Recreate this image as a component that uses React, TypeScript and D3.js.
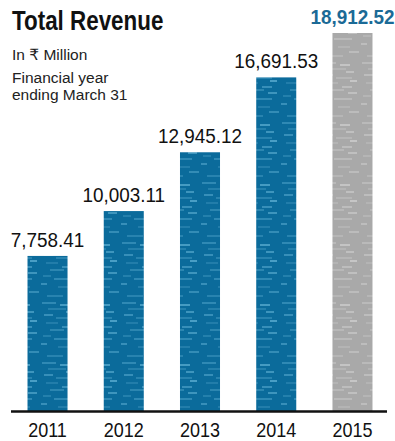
import React from "react";
import * as d3 from "d3";

const years = ["2011", "2012", "2013", "2014", "2015"];
const revenue = [7758.41, 10003.11, 12945.12, 16691.53, 18912.52];
const valueLabels = ["7,758.41", "10,003.11", "12,945.12", "16,691.53", "18,912.52"];
const highlightIndex = 4;

const W = 395;
const H = 441;
const BASE = 411;

export default function App() {
  const x = d3
    .scaleBand<string>()
    .domain(years)
    .range([9.4, 390.6])
    .paddingInner(0.475)
    .paddingOuter(0.2375);
  const y = d3.scaleLinear().domain([0, 18912.52]).range([BASE, 33]);
  const bw = x.bandwidth();

  // decorative texture strokes [x, y, length, opacity]
  const streaks = [
    [2, 3, 14, 0.5], [20, 5, 10, 0.8], [8, 9, 18, 0.35], [26, 12, 8, 0.7], [4, 15, 9, 0.6],
    [16, 18, 16, 0.4], [30, 21, 7, 0.85], [6, 23, 12, 0.3], [22, 27, 10, 0.6], [10, 30, 14, 0.45],
    [28, 33, 9, 0.7], [3, 36, 8, 0.35], [14, 39, 18, 0.5], [1, 44, 6, 0.6], [18, 47, 12, 0.3],
    [29, 52, 10, 0.55], [7, 56, 16, 0.4],
  ];

  return (
    <svg
      width={W}
      height={H}
      style={{ position: "absolute", left: 0, top: 0, background: "#fff" }}
      fontFamily="'Liberation Sans', Arial, sans-serif"
    >
      <defs>
        <pattern id="blueTex" width="40" height="60" patternUnits="userSpaceOnUse">
          <rect width="40" height="60" fill="#0b6b9b" />
          {streaks.map((s, i) => (
            <line key={i} x1={s[0]} x2={s[0] + s[2]} y1={s[1]} y2={s[1]}
              stroke="#7cc8e6" strokeWidth={1.3} opacity={s[3]} />
          ))}
        </pattern>
        <pattern id="grayTex" width="40" height="60" patternUnits="userSpaceOnUse">
          <rect width="40" height="60" fill="#a9a9a9" />
          {streaks.map((s, i) => (
            <line key={i} x1={s[0]} x2={s[0] + s[2]} y1={s[1]} y2={s[1]}
              stroke="#dddddd" strokeWidth={1.3} opacity={s[3]} />
          ))}
        </pattern>
      </defs>

      <g transform="translate(12,30) scale(0.8,1)">
        <text fontSize={28} fontWeight="bold" fill="#111">Total Revenue</text>
      </g>
      <text x={12} y={60} fontSize={15.5} fill="#222"
        fontFamily="'Liberation Sans', 'DejaVu Sans', 'Noto Sans', sans-serif">In ₹ Million</text>
      <text x={12} y={83} fontSize={15.5} fill="#222">Financial year</text>
      <text x={12} y={100} fontSize={15.5} fill="#222">ending March 31</text>

      {years.map((yr, i) => {
        const x0 = x(yr)!;
        const top = y(revenue[i]);
        const hi = i === highlightIndex;
        return (
          <g key={yr}>
            <rect x={x0} y={top} width={bw} height={BASE - top}
              fill={hi ? "url(#grayTex)" : "url(#blueTex)"} />
            <g transform={`translate(${x0 + bw / 2},${top - 9}) scale(0.9,1)`}>
              <text textAnchor="middle" fontSize={21}
                fontWeight={hi ? "bold" : "normal"}
                fill={hi ? "#1b6a96" : "#111"}>{valueLabels[i]}</text>
            </g>
            <g transform={`translate(${x0 + bw / 2},437) scale(0.9,1)`}>
              <text textAnchor="middle" fontSize={20} fill="#111">{yr}</text>
            </g>
          </g>
        );
      })}

      <line x1={11} x2={387} y1={BASE + 0.5} y2={BASE + 0.5} stroke="#111" strokeWidth={2.5} />
    </svg>
  );
}
